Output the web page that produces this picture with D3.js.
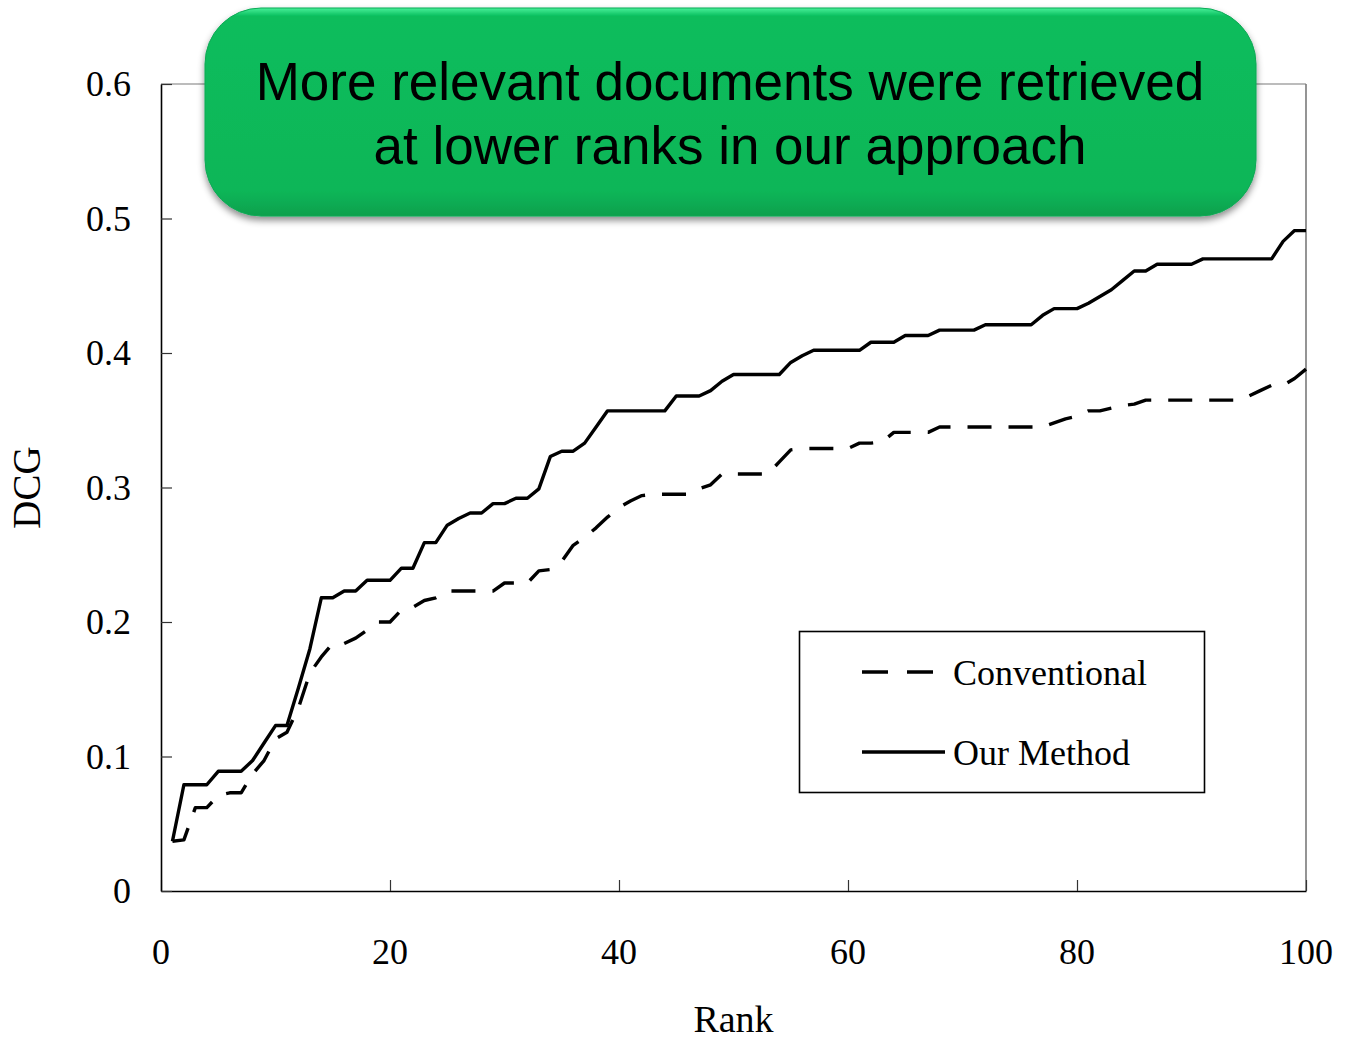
<!DOCTYPE html>
<html>
<head>
<meta charset="utf-8">
<script src="https://cdn.jsdelivr.net/npm/d3@7"></script>
<style>
  html, body { margin: 0; padding: 0; background: #fff; }
  svg { display: block; }
</style>
</head>
<body>
<svg id="chart" width="1345" height="1042"></svg>
<script>
// ---- data ----
const ranks = d3.range(1, 101);
const ourMethod = [
  0.037, 0.079, 0.079, 0.079, 0.089, 0.089, 0.089, 0.097, 0.110, 0.123,
  0.123, 0.151, 0.180, 0.218, 0.218, 0.223, 0.223, 0.231, 0.231, 0.231,
  0.240, 0.240, 0.259, 0.259, 0.272, 0.277, 0.281, 0.281, 0.288, 0.288,
  0.292, 0.292, 0.299, 0.323, 0.327, 0.327, 0.333, 0.345, 0.357, 0.357,
  0.357, 0.357, 0.357, 0.357, 0.368, 0.368, 0.368, 0.372, 0.379, 0.384,
  0.384, 0.384, 0.384, 0.384, 0.393, 0.398, 0.402, 0.402, 0.402, 0.402,
  0.402, 0.408, 0.408, 0.408, 0.413, 0.413, 0.413, 0.417, 0.417, 0.417,
  0.417, 0.421, 0.421, 0.421, 0.421, 0.421, 0.428, 0.433, 0.433, 0.433,
  0.437, 0.442, 0.447, 0.454, 0.461, 0.461, 0.466, 0.466, 0.466, 0.466,
  0.470, 0.470, 0.470, 0.470, 0.470, 0.470, 0.470, 0.483, 0.491, 0.491
];
const conventional = [
  0.037, 0.038, 0.062, 0.062, 0.071, 0.073, 0.073, 0.087, 0.097, 0.113,
  0.118, 0.136, 0.162, 0.174, 0.184, 0.184, 0.188, 0.194, 0.200, 0.200,
  0.209, 0.211, 0.216, 0.218, 0.223, 0.223, 0.223, 0.223, 0.223, 0.229,
  0.229, 0.229, 0.238, 0.239, 0.245, 0.257, 0.263, 0.270, 0.278, 0.285,
  0.290, 0.294, 0.295, 0.295, 0.295, 0.295, 0.299, 0.302, 0.310, 0.310,
  0.310, 0.310, 0.310, 0.319, 0.328, 0.329, 0.329, 0.329, 0.329, 0.329,
  0.333, 0.333, 0.334, 0.341, 0.341, 0.341, 0.341, 0.345, 0.345, 0.345,
  0.345, 0.345, 0.345, 0.345, 0.345, 0.345, 0.345, 0.348, 0.351, 0.353,
  0.357, 0.357, 0.359, 0.361, 0.362, 0.365, 0.365, 0.365, 0.365, 0.365,
  0.365, 0.365, 0.365, 0.365, 0.368, 0.372, 0.376, 0.376, 0.381, 0.388
];
const xTicks = [0, 20, 40, 60, 80, 100];
const yTicks = [0, 0.1, 0.2, 0.3, 0.4, 0.5, 0.6];
const seriesNames = ["Conventional", "Our Method"];
const titleLines = ["More relevant documents were retrieved", "at lower ranks in our approach"];

// ---- layout ----
const svg = d3.select("#chart");
const L = 161, R = 1306, T = 84, B = 891;
const x = d3.scaleLinear().domain([0, 100]).range([L, R]);
const y = d3.scaleLinear().domain([0, 0.6]).range([B, T]);
const serif = "'Liberation Serif', 'Times New Roman', serif";

// plot frame (top & right gray)
svg.append("line").attr("x1", L).attr("x2", R).attr("y1", T).attr("y2", T)
  .attr("stroke", "#7a7a7a").attr("stroke-width", 1.2);
svg.append("line").attr("x1", R).attr("x2", R).attr("y1", T).attr("y2", B)
  .attr("stroke", "#7a7a7a").attr("stroke-width", 1.6);

// axes
const xAxis = svg.append("g").attr("transform", `translate(0,${B})`)
  .call(d3.axisBottom(x).tickValues(xTicks).tickSizeInner(-11).tickSizeOuter(0).tickFormat(""));
const yAxis = svg.append("g").attr("transform", `translate(${L},0)`)
  .call(d3.axisLeft(y).tickValues(yTicks).tickSizeInner(-11).tickSizeOuter(0).tickFormat(""));
[xAxis, yAxis].forEach(g => {
  g.select(".domain").attr("stroke", "#000").attr("stroke-width", 1.6);
  g.selectAll(".tick line").attr("stroke", "#333").attr("stroke-width", 1.2);
});

// tick labels
svg.append("g").selectAll("text").data(xTicks).join("text")
  .attr("x", d => x(d)).attr("y", 964)
  .attr("text-anchor", "middle")
  .attr("font-family", serif).attr("font-size", 36)
  .text(d => d);
svg.append("g").selectAll("text").data(yTicks).join("text")
  .attr("x", 131).attr("y", d => y(d) + 12)
  .attr("text-anchor", "end")
  .attr("font-family", serif).attr("font-size", 36)
  .text(d => d3.format("")(+d.toFixed(1)));

// axis titles
svg.append("text").attr("x", (L + R) / 2).attr("y", 1032)
  .attr("text-anchor", "middle").attr("font-family", serif).attr("font-size", 38)
  .text("Rank");
svg.append("text").attr("transform", `translate(40,${(T + B) / 2}) rotate(-90)`)
  .attr("text-anchor", "middle").attr("font-family", serif).attr("font-size", 39)
  .text("DCG");

// lines
const line = d3.line().x((d, i) => x(ranks[i])).y(d => y(d));
svg.append("path").datum(conventional).attr("d", line)
  .attr("fill", "none").attr("stroke", "#000").attr("stroke-width", 3.4)
  .attr("stroke-dasharray", "24,17").attr("stroke-linejoin", "round");
svg.append("path").datum(ourMethod).attr("d", line)
  .attr("fill", "none").attr("stroke", "#000").attr("stroke-width", 3.4)
  .attr("stroke-linejoin", "round");

// legend
const lg = svg.append("g");
lg.append("rect").attr("x", 799.5).attr("y", 631.5).attr("width", 405).attr("height", 161)
  .attr("fill", "#fff").attr("stroke", "#000").attr("stroke-width", 1.6);
lg.append("line").attr("x1", 862).attr("x2", 937).attr("y1", 672).attr("y2", 672)
  .attr("stroke", "#000").attr("stroke-width", 3.4).attr("stroke-dasharray", "26,19");
lg.append("line").attr("x1", 862).attr("x2", 945).attr("y1", 752).attr("y2", 752)
  .attr("stroke", "#000").attr("stroke-width", 3.4);
lg.selectAll("text").data(seriesNames).join("text")
  .attr("x", 953).attr("y", (d, i) => 685 + i * 80)
  .attr("font-family", serif).attr("font-size", 36)
  .text(d => d);

// title callout box
const defs = svg.append("defs");
const grad = defs.append("linearGradient").attr("id", "gbox")
  .attr("x1", 0).attr("y1", 0).attr("x2", 0).attr("y2", 1);
grad.append("stop").attr("offset", "0%").attr("stop-color", "#46f09a");
grad.append("stop").attr("offset", "4%").attr("stop-color", "#0bbd5c");
grad.append("stop").attr("offset", "88%").attr("stop-color", "#0ab658");
grad.append("stop").attr("offset", "100%").attr("stop-color", "#08a04d");
const flt = defs.append("filter").attr("id", "shadow")
  .attr("x", "-5%").attr("y", "-10%").attr("width", "110%").attr("height", "130%");
flt.append("feDropShadow").attr("dx", 0).attr("dy", 4).attr("stdDeviation", 3.5)
  .attr("flood-color", "#000").attr("flood-opacity", 0.45);

svg.append("rect").attr("x", 205).attr("y", 8).attr("width", 1051).attr("height", 208)
  .attr("rx", 56).attr("ry", 56)
  .attr("fill", "url(#gbox)").attr("stroke", "#0aa955").attr("stroke-width", 1)
  .attr("filter", "url(#shadow)");
svg.append("g").selectAll("text").data(titleLines).join("text")
  .attr("x", 730).attr("y", (d, i) => 100 + i * 64)
  .attr("text-anchor", "middle")
  .attr("font-family", "'Liberation Sans', Arial, sans-serif").attr("font-size", 53)
  .attr("fill", "#000")
  .text(d => d);
</script>
</body>
</html>
